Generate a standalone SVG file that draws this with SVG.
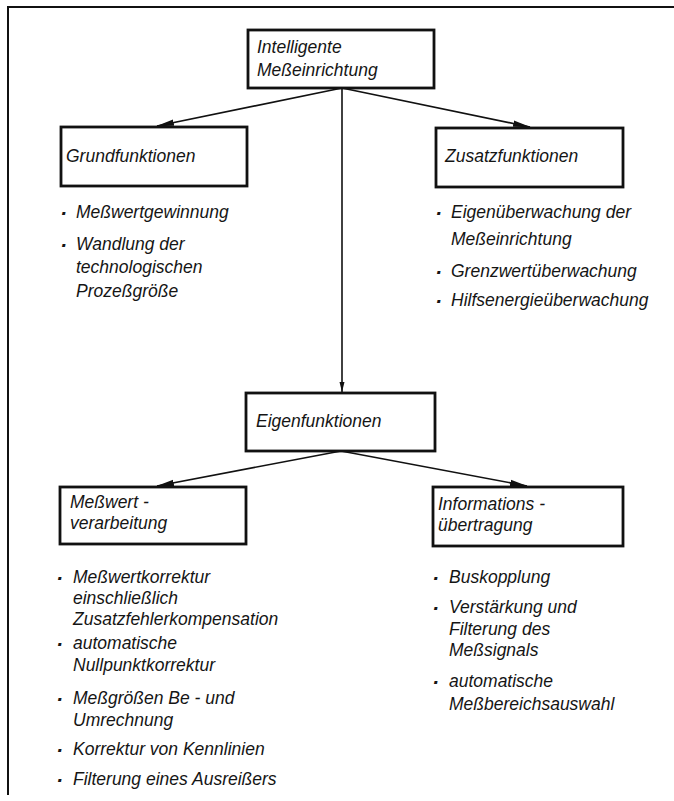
<svg xmlns="http://www.w3.org/2000/svg" width="674" height="801" viewBox="0 0 674 801">
<style>
  .box { fill: #ffffff; stroke: #111111; stroke-width: 2.8; }
  .frame { fill: none; stroke: #111111; stroke-width: 2; }
  .conn { fill: none; stroke: #111111; stroke-width: 1.6; }
  text { font-family: "Liberation Sans", Arial, sans-serif; font-style: italic; font-size: 17.5px; fill: #151515; }
  .dot { font-weight: bold; font-size: 21px; }
</style>
<defs>
  <marker id="arr" viewBox="0 0 18 8" refX="17" refY="4" markerWidth="18" markerHeight="8" markerUnits="userSpaceOnUse" orient="auto">
    <path d="M0,0.8 L18,4 L0,7.2 Z" fill="#111111"/>
  </marker>
  <marker id="arrs" viewBox="0 0 10 6" refX="10" refY="3" markerWidth="10" markerHeight="6" markerUnits="userSpaceOnUse" orient="auto">
    <path d="M0,0.5 L10,3 L0,5.5 Z" fill="#111111"/>
  </marker>
</defs>
<rect width="674" height="801" fill="#ffffff"/>
<g id="frame">
  <polyline class="frame" points="8,795 8,7 674,7"/>
</g>
<g id="connectors">
  <line class="conn" x1="342" y1="88" x2="157" y2="126" marker-end="url(#arr)"/>
  <line class="conn" x1="342" y1="88" x2="530" y2="127" marker-end="url(#arr)"/>
  <line class="conn" x1="342" y1="88" x2="342" y2="392" marker-end="url(#arrs)"/>
  <line class="conn" x1="341" y1="451" x2="157" y2="486" marker-end="url(#arr)"/>
  <line class="conn" x1="341" y1="451" x2="527" y2="486" marker-end="url(#arr)"/>
</g>
<g id="node-intelligente">
  <rect class="box" x="248" y="30" width="186" height="58"/>
  <text x="257" y="53">Intelligente</text>
  <text x="257" y="76">Meßeinrichtung</text>
</g>
<g id="node-grundfunktionen">
  <rect class="box" x="61" y="127" width="186" height="59"/>
  <text x="66" y="162">Grundfunktionen</text>
</g>
<g id="node-zusatzfunktionen">
  <rect class="box" x="436" y="128" width="187" height="59"/>
  <text x="445" y="162">Zusatzfunktionen</text>
</g>
<g id="node-eigenfunktionen">
  <rect class="box" x="246" y="393" width="189" height="58"/>
  <text x="256" y="427">Eigenfunktionen</text>
</g>
<g id="node-messwertverarbeitung">
  <rect class="box" x="60" y="487" width="186" height="57"/>
  <text x="70" y="508">Meßwert -</text>
  <text x="70" y="529">verarbeitung</text>
</g>
<g id="node-informationsuebertragung">
  <rect class="box" x="433" y="487" width="190" height="59"/>
  <text x="438" y="510">Informations -</text>
  <text x="438" y="531">übertragung</text>
</g>
<g id="list-grundfunktionen">
  <text y="218"><tspan class="dot" x="60" dy="2">·</tspan><tspan x="76" dy="-2">Meßwertgewinnung</tspan></text>
  <text y="250"><tspan class="dot" x="60" dy="2">·</tspan><tspan x="76" dy="-2">Wandlung der</tspan></text>
  <text x="76" y="273">technologischen</text>
  <text x="76" y="297">Prozeßgröße</text>
</g>
<g id="list-zusatzfunktionen">
  <text y="218"><tspan class="dot" x="435" dy="2">·</tspan><tspan x="451" dy="-2">Eigenüberwachung der</tspan></text>
  <text x="451" y="245">Meßeinrichtung</text>
  <text y="277"><tspan class="dot" x="435" dy="2">·</tspan><tspan x="451" dy="-2">Grenzwertüberwachung</tspan></text>
  <text y="306"><tspan class="dot" x="435" dy="2">·</tspan><tspan x="451" dy="-2">Hilfsenergieüberwachung</tspan></text>
</g>
<g id="list-messwertverarbeitung">
  <text y="583"><tspan class="dot" x="56" dy="2">·</tspan><tspan x="73" dy="-2">Meßwertkorrektur</tspan></text>
  <text x="73" y="604">einschließlich</text>
  <text x="73" y="625">Zusatzfehlerkompensation</text>
  <text y="649"><tspan class="dot" x="56" dy="2">·</tspan><tspan x="73" dy="-2">automatische</tspan></text>
  <text x="73" y="671">Nullpunktkorrektur</text>
  <text y="704"><tspan class="dot" x="56" dy="2">·</tspan><tspan x="73" dy="-2">Meßgrößen Be - und</tspan></text>
  <text x="73" y="726">Umrechnung</text>
  <text y="755"><tspan class="dot" x="56" dy="2">·</tspan><tspan x="73" dy="-2">Korrektur von Kennlinien</tspan></text>
  <text y="785"><tspan class="dot" x="56" dy="2">·</tspan><tspan x="73" dy="-2">Filterung eines Ausreißers</tspan></text>
</g>
<g id="list-informationsuebertragung">
  <text y="583"><tspan class="dot" x="432" dy="2">·</tspan><tspan x="449" dy="-2">Buskopplung</tspan></text>
  <text y="613"><tspan class="dot" x="432" dy="2">·</tspan><tspan x="449" dy="-2">Verstärkung und</tspan></text>
  <text x="449" y="635">Filterung des</text>
  <text x="449" y="656">Meßsignals</text>
  <text y="687"><tspan class="dot" x="432" dy="2">·</tspan><tspan x="449" dy="-2">automatische</tspan></text>
  <text x="449" y="710">Meßbereichsauswahl</text>
</g>
</svg>
